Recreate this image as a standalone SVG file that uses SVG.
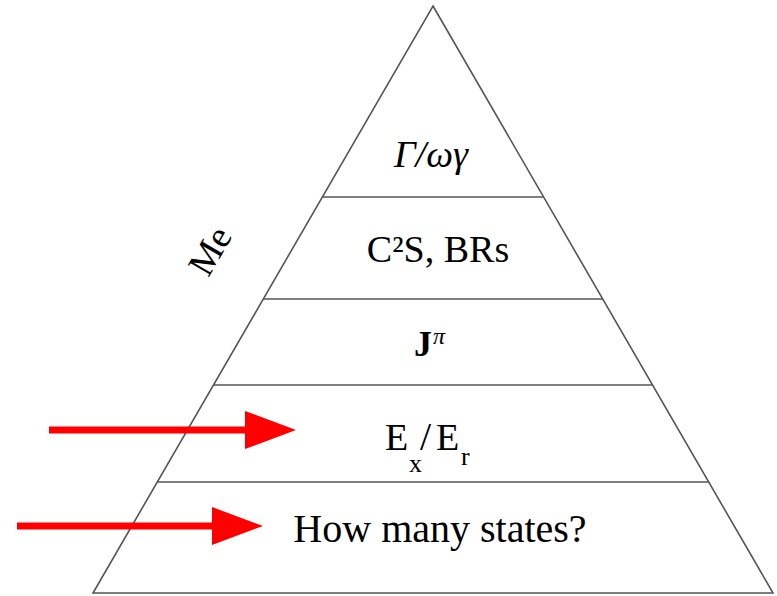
<svg xmlns="http://www.w3.org/2000/svg" width="777" height="596" viewBox="0 0 777 596">
<style>
.ln{stroke:#555;stroke-width:1.6;fill:none}
.t{font-family:"Liberation Serif","Times New Roman",serif;fill:#000;text-anchor:middle}
.s{font-family:"Liberation Serif","Times New Roman",serif;fill:#000}
.arr{stroke:#ff0000;stroke-width:7}
.head{fill:#ff0000}
</style>
<rect width="777" height="596" fill="#fff"/>
<g id="pyramid">
<polygon class="ln" points="433,6 773,593 93,593"/>
<line class="ln" x1="322.4" y1="197" x2="543.6" y2="197"/>
<line class="ln" x1="263.3" y1="299" x2="602.7" y2="299"/>
<line class="ln" x1="213.6" y1="385" x2="652.4" y2="385"/>
<line class="ln" x1="157.4" y1="482" x2="708.6" y2="482"/>
</g>
<g id="level1"><text class="t" x="431" y="167" font-size="38" font-style="italic">Γ/ωγ</text></g>
<g id="level2"><text class="t" x="438" y="262" font-size="38">C²S, BRs</text></g>
<g id="level3"><text class="s" x="414" y="356" font-size="36" font-weight="bold">J</text><text class="s" x="433" y="344" font-size="24" font-style="italic">π</text></g>
<g id="level4"><text class="s" x="385" y="450" font-size="38">E</text><text class="s" x="409" y="472" font-size="26">x</text><text class="s" x="420" y="450" font-size="40">/</text><text class="s" x="436" y="450" font-size="38">E</text><text class="s" x="461" y="465" font-size="26">r</text></g>
<g id="level5"><text class="t" x="440" y="542" font-size="40">How many states?</text></g>
<g id="side-label"><text class="t" x="212" y="262" font-size="37" transform="rotate(-60 212 252)">Me</text></g>
<g id="connectors">
<line class="arr" x1="49" y1="430" x2="247" y2="430"/>
<polygon class="head" points="245,411 296,430 245,449"/>
<line class="arr" x1="17" y1="526" x2="214" y2="526"/>
<polygon class="head" points="212,507 263,526 212,545"/>
</g>
</svg>
